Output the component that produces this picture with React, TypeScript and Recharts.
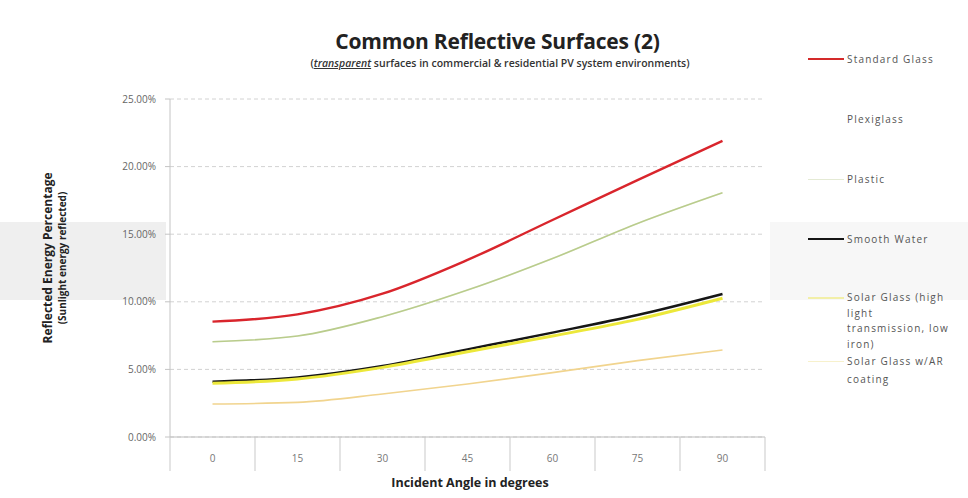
import { LineChart, Line, XAxis, YAxis, CartesianGrid } from 'recharts'

const ANGLES = ['0', '15', '30', '45', '60', '75', '90']
const STANDARD_GLASS = [8.53, 9.07, 10.6, 13.1, 16.05, 19.0, 21.9]
const PLEXIGLASS = [7.05, 7.47, 8.9, 10.87, 13.2, 15.8, 18.07]
const PLASTIC = [7.05, 7.47, 8.9, 10.87, 13.2, 15.8, 18.07]
const SMOOTH_WATER = [4.09, 4.41, 5.25, 6.48, 7.72, 9.02, 10.58]
const SOLAR_GLASS = [3.97, 4.29, 5.15, 6.31, 7.47, 8.7, 10.26]
const SOLAR_GLASS_AR = [2.44, 2.56, 3.18, 3.92, 4.76, 5.65, 6.43]
const Y_TICKS = [0, 5, 10, 15, 20, 25]

const data = ANGLES.map((a, i) => ({
  angle: a,
  standard: STANDARD_GLASS[i],
  plexi: PLEXIGLASS[i],
  plastic: PLASTIC[i],
  water: SMOOTH_WATER[i],
  solar: SOLAR_GLASS[i],
  solarAr: SOLAR_GLASS_AR[i],
}))

const FONT = '"Open Sans", "Liberation Sans", sans-serif'
const HALF_BAND = 42.5

function AngleTick(props: any) {
  const { x, y, payload, index } = props
  return (
    <g>
      <line x1={x - HALF_BAND} x2={x - HALF_BAND} y1={y} y2={y + 34} stroke="#c9c9c9" />
      {index === ANGLES.length - 1 && (
        <line x1={x + HALF_BAND} x2={x + HALF_BAND} y1={y} y2={y + 34} stroke="#c9c9c9" />
      )}
      <text x={x} y={y + 25} textAnchor="middle" fontSize={10} fill="#777" fontFamily={FONT}>
        {payload.value}
      </text>
    </g>
  )
}

const legendItems = [
  { label: 'Standard Glass', color: '#d42a2a', top: 50, width: 2, lh: 18 },
  { label: 'Plexiglass', color: '#ffffff', top: 110, width: 1, lh: 18 },
  { label: 'Plastic', color: '#e4ead4', top: 170, width: 1, lh: 18 },
  { label: 'Smooth Water', color: '#151515', top: 230, width: 2, lh: 18 },
  { label: 'Solar Glass (high light transmission, low iron)', color: '#f2efa8', top: 290, width: 2, lh: 15.5 },
  { label: 'Solar Glass w/AR coating', color: '#f7f1cc', top: 352, width: 1, lh: 18 },
]

export default function App() {
  return (
    <div
      style={{
        position: 'fixed',
        left: 0,
        top: 0,
        width: 968,
        height: 498,
        background: '#fff',
        fontFamily: FONT,
        overflow: 'hidden',
      }}
    >
      <div style={{ position: 'absolute', left: 0, top: 222, width: 166, height: 78, background: '#efefef' }} />
      <div style={{ position: 'absolute', left: 770, top: 222, width: 198, height: 78, background: '#f7f7f7' }} />

      <div
        style={{
          position: 'absolute',
          left: 0,
          width: 995,
          top: 27,
          textAlign: 'center',
          fontSize: 21,
          fontWeight: 700,
          color: '#222',
          letterSpacing: -0.2,
        }}
      >
        Common Reflective Surfaces (2)
      </div>
      <div
        style={{
          position: 'absolute',
          left: 0,
          width: 1000,
          top: 56,
          textAlign: 'center',
          fontSize: 10.5,
          fontWeight: 600,
          color: '#333',
        }}
      >
        (<i style={{ textDecoration: 'underline' }}>transparent</i> surfaces in commercial &amp; residential PV
        system environments)
      </div>

      <div
        style={{
          position: 'absolute',
          left: 55,
          top: 258,
          transform: 'translate(-50%, -50%) rotate(-90deg)',
          whiteSpace: 'nowrap',
          textAlign: 'center',
          color: '#222',
          fontWeight: 700,
          lineHeight: '15px',
        }}
      >
        <div style={{ fontSize: 12 }}>Reflected Energy Percentage</div>
        <div style={{ fontSize: 10 }}>(Sunlight energy reflected)</div>
      </div>

      <div
        style={{
          position: 'absolute',
          left: 0,
          width: 940,
          top: 474,
          textAlign: 'center',
          fontSize: 12.5,
          fontWeight: 700,
          color: '#222',
        }}
      >
        Incident Angle in degrees
      </div>

      {legendItems.map((item) => (
        <div key={item.label} style={{ position: 'absolute', left: 808, top: item.top, display: 'flex' }}>
          <div
            style={{
              width: 36,
              height: item.width,
              background: item.color,
              marginTop: item.lh / 2 - item.width / 2,
              flexShrink: 0,
            }}
          />
          <div
            style={{
              width: 104,
              marginLeft: 3,
              fontSize: 10,
              lineHeight: `${item.lh}px`,
              color: '#555',
              letterSpacing: 1.2,
            }}
          >
            {item.label}
          </div>
        </div>
      ))}

      <div style={{ position: 'absolute', left: 0, top: 0 }}>
        <LineChart
          width={968}
          height={498}
          data={data}
          margin={{ top: 99, right: 203, bottom: 31, left: 0 }}
        >
          <CartesianGrid horizontal vertical={false} stroke="#d2d2d2" strokeDasharray="4 3" />
          <XAxis
            dataKey="angle"
            height={30}
            padding={{ left: HALF_BAND, right: HALF_BAND }}
            axisLine={{ stroke: '#bdbdbd' }}
            tickLine={false}
            tickSize={0}
            tickMargin={0}
            interval={0}
            tick={<AngleTick />}
          />
          <YAxis
            width={170}
            domain={[0, 25]}
            ticks={Y_TICKS}
            tickFormatter={(v: number) => `${v.toFixed(2)}%`}
            axisLine={{ stroke: '#c4c4c4' }}
            tickLine={{ stroke: '#c4c4c4' }}
            tickSize={5}
            tickMargin={9}
            tick={{ fontSize: 10, fill: '#666', fontFamily: FONT }}
          />
          <Line type="monotone" dataKey="plexi" stroke="#f4f6ee" strokeWidth={1.5} dot={false} isAnimationActive={false} />
          <Line type="monotone" dataKey="plastic" stroke="#b9cc8c" strokeWidth={1.6} dot={false} isAnimationActive={false} />
          <Line type="monotone" dataKey="solarAr" stroke="#f1d48e" strokeWidth={1.6} dot={false} isAnimationActive={false} />
          <Line type="monotone" dataKey="water" stroke="#161616" strokeWidth={2.5} dot={false} isAnimationActive={false} />
          <Line type="monotone" dataKey="solar" stroke="#ece83a" strokeWidth={3} dot={false} isAnimationActive={false} />
          <Line type="monotone" dataKey="standard" stroke="#d9252c" strokeWidth={2.4} dot={false} isAnimationActive={false} />
        </LineChart>
      </div>
    </div>
  )
}
